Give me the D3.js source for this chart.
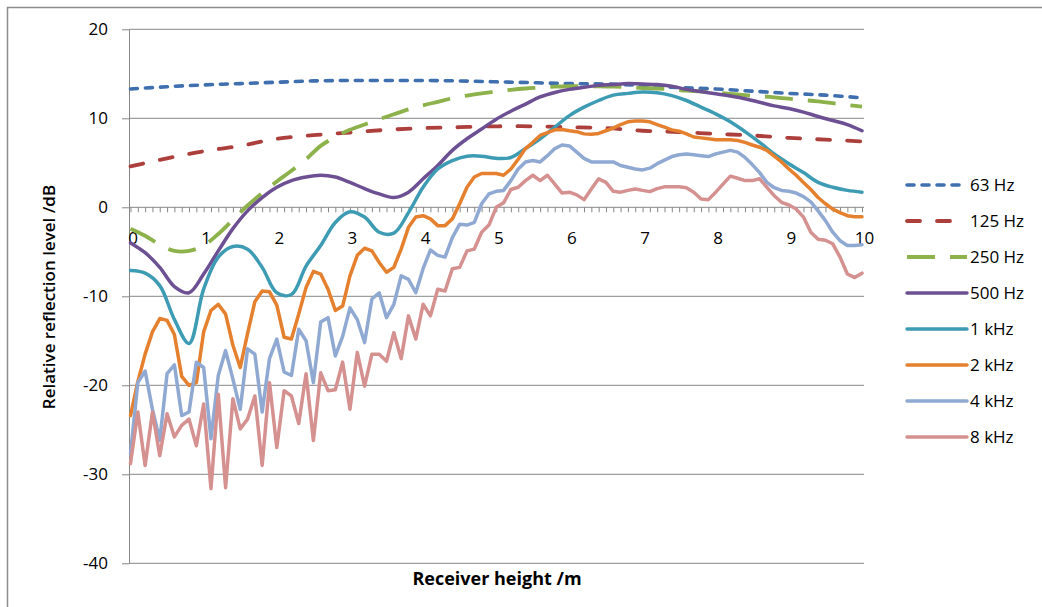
<!DOCTYPE html>
<html>
<head>
<meta charset="utf-8">
<script src="https://cdn.jsdelivr.net/npm/d3@7"></script>
<style>
  body { margin: 0; background: #fff; }
  svg { display: block; }
  text { font-family: "Open Sans", sans-serif; fill: #000; }
</style>
</head>
<body>
<div id="chart"></div>
<script>
// categories: receiver height (m)
const heightsFine = d3.range(0, 101).map(i => i / 10);   // every 0.1 m
const heightsMid = d3.range(0, 51).map(i => i / 5);      // every 0.2 m
const heightsCoarse = d3.range(0, 21).map(i => i / 2);   // every 0.5 m

const seriesNames = ["63 Hz", "125 Hz", "250 Hz", "500 Hz", "1 kHz", "2 kHz", "4 kHz", "8 kHz"];
const yTicks = [-40, -30, -20, -10, 0, 10, 20];
const xLabels = [0, 1, 2, 3, 4, 5, 6, 7, 8, 9, 10];

// relative reflection level (dB)
const hz63 = [13.3, 13.55, 13.75, 13.9, 14.05, 14.2, 14.25, 14.25, 14.25, 14.2, 14.1,
  14.0, 13.9, 13.85, 13.7, 13.45, 13.3, 13.05, 12.8, 12.6, 12.3];

const hz125 = [4.6, 5.5, 6.3, 6.9, 7.7, 8.1, 8.4, 8.7, 8.9, 9.0, 9.1,
  9.1, 9.0, 8.9, 8.6, 8.45, 8.25, 8.07, 7.8, 7.6, 7.4];

const hz250 = [
  -2.4, -3.2, -4.2, -4.9, -4.9, -4.3, -3.0, -1.4, 0.2, 1.6,
  2.9, 4.1, 5.4, 6.9, 7.9, 8.7, 9.3, 9.9, 10.45, 11.0,
  11.45, 11.85, 12.25, 12.55, 12.8, 13.0, 13.2, 13.35, 13.45, 13.55,
  13.6, 13.6, 13.6, 13.55, 13.5, 13.4, 13.35, 13.25, 13.1, 13.0,
  12.87, 12.75, 12.6, 12.5, 12.35, 12.2, 12.05, 11.9, 11.7, 11.5,
  11.3];

const hz500 = [
  -4.0, -5.1, -6.75, -8.9, -9.6, -7.5, -4.9, -2.4, -0.4, 1.1,
  2.25, 3.0, 3.4, 3.6, 3.4, 2.8, 2.1, 1.5, 1.1, 1.7,
  3.2, 4.7, 6.4, 7.7, 8.8, 9.9, 10.8, 11.6, 12.4, 12.9,
  13.25, 13.5, 13.7, 13.8, 13.9, 13.85, 13.8, 13.6, 13.25, 13.0,
  12.76, 12.5, 12.2, 11.8, 11.4, 11.1, 10.7, 10.2, 9.75, 9.3,
  8.6];

const khz1 = [
  -7.1, -7.4, -8.8, -12.6, -15.3, -9.2, -5.6, -4.4, -4.7, -6.75,
  -9.6, -9.8, -6.6, -4.3, -1.7, -0.5, -1.1, -2.8, -2.9, -0.6,
  2.25, 4.3, 5.25, 5.74, 5.74, 5.5, 5.6, 6.6, 7.7, 9.0,
  10.3, 11.25, 12.0, 12.6, 12.8, 12.95, 12.87, 12.55, 12.0, 11.25,
  10.5, 9.6, 8.5, 7.3, 6.0, 4.9, 3.9, 2.8, 2.25, 1.9,
  1.7];

const khz2 = [
  -23.4, -19.6, -16.5, -14.0, -12.5, -12.7, -14.3, -19.0, -20.0, -19.7,
  -14.0, -11.6, -10.9, -12.0, -15.5, -18.0, -14.2, -10.6, -9.4, -9.5,
  -11.0, -14.6, -14.8, -12.0, -9.0, -7.2, -7.5, -9.2, -11.6, -11.1,
  -7.7, -5.4, -4.6, -4.9, -6.2, -7.3, -6.75, -4.7, -2.25, -1.1,
  -0.94, -1.3, -2.06, -2.06, -1.3, 0.4, 2.25, 3.4, 3.8, 3.8,
  3.8, 3.6, 4.3, 5.4, 6.6, 7.3, 8.07, 8.4, 8.7, 8.75,
  8.6, 8.5, 8.25, 8.2, 8.3, 8.6, 8.9, 9.3, 9.6, 9.7,
  9.7, 9.6, 9.3, 9.0, 8.7, 8.55, 8.25, 7.9, 7.8, 7.7,
  7.6, 7.6, 7.6, 7.5, 7.3, 7.0, 6.75, 6.4, 5.74, 5.1,
  4.3, 3.6, 2.8, 2.0, 1.1, 0.4, -0.2, -0.6, -0.94, -1.05,
  -1.05];

const khz4 = [
  -27.7, -19.7, -18.4, -22.7, -26.2, -18.7, -17.7, -23.4, -23.0, -17.4,
  -18.0, -26.0, -18.9, -16.1, -19.3, -22.7, -15.9, -16.5, -23.0, -17.0,
  -14.8, -18.5, -18.9, -13.7, -15.0, -19.7, -12.9, -12.4, -16.7, -14.5,
  -11.3, -12.6, -15.2, -10.3, -9.6, -12.4, -10.9, -7.7, -8.1, -9.6,
  -6.9, -4.8, -5.4, -5.6, -3.4, -1.9, -2.0, -1.7, 0.4, 1.5,
  1.8, 1.9, 3.0, 4.3, 5.1, 5.25, 5.1, 5.8, 6.6, 7.0,
  6.9, 6.2, 5.5, 5.1, 5.1, 5.1, 5.1, 4.7, 4.5, 4.3,
  4.2, 4.4, 4.9, 5.3, 5.7, 5.9, 6.0, 5.9, 5.8, 5.7,
  6.0, 6.2, 6.4, 6.2, 5.6, 4.8, 3.9, 2.8, 2.2, 1.9,
  1.8, 1.6, 1.2, 0.6, -0.4, -1.5, -2.8, -3.75, -4.3, -4.3,
  -4.2];

const khz8 = [
  -28.8, -23.0, -29.0, -23.0, -27.9, -23.2, -25.8, -24.5, -23.8, -26.8,
  -22.1, -31.6, -21.0, -31.5, -21.5, -24.9, -23.8, -21.2, -29.0, -19.7,
  -27.0, -20.6, -21.2, -24.3, -18.7, -26.2, -18.6, -20.6, -20.5, -17.4,
  -22.7, -16.3, -20.1, -16.5, -16.5, -17.3, -14.1, -17.0, -12.2, -14.8,
  -10.9, -12.2, -9.2, -9.4, -6.9, -6.75, -4.9, -4.7, -2.8, -2.0,
  0.0, 0.5, 2.0, 2.25, 3.0, 3.6, 3.0, 3.6, 2.6, 1.6,
  1.7, 1.4, 0.86, 2.06, 3.2, 2.8, 1.8, 1.7, 1.9, 2.06,
  1.9, 1.76, 2.1, 2.3, 2.3, 2.3, 2.2, 1.7, 0.94, 0.86,
  1.7, 2.6, 3.5, 3.26, 3.0, 3.0, 3.2, 2.25, 1.3, 0.56,
  0.26, -0.2, -1.1, -2.8, -3.6, -3.7, -4.1, -5.6, -7.5, -7.9,
  -7.4];

const seriesValues = [hz63, hz125, hz250, hz500, khz1, khz2, khz4, khz8];
const seriesHeights = [heightsCoarse, heightsCoarse, heightsMid, heightsMid, heightsMid,
  heightsFine, heightsFine, heightsFine];

// styles
const colors = ["#3f6fae", "#ac3f3c", "#8db14b", "#6d5093", "#3d9bb3", "#e5802f", "#8fa9d2", "#d59090"];
const dashes = ["7,8", "13,17", "28,15", null, null, null, null, null];
const caps = ["round", "round", "butt", "round", "round", "round", "round", "round"];
const widths = [3.6, 3.8, 3.8, 3.5, 3.5, 3.5, 3.5, 3.5];

function renderChart() {
  const W = 1042, H = 607;
  const plot = { left: 129, right: 864, top: 29.3, bottom: 563.3 };
  const gridColor = "#878787";

  const svg = d3.select("#chart").append("svg")
    .attr("width", W)
    .attr("height", H);

  svg.append("rect")
    .attr("width", W)
    .attr("height", H)
    .attr("fill", "#fff");

  // chart frame
  svg.append("rect")
    .attr("x", 7.5).attr("y", 7.5)
    .attr("width", 1100).attr("height", 700)
    .attr("fill", "none")
    .attr("stroke", "#8c8c8c")
    .attr("stroke-width", 1.5);

  const x = d3.scaleLinear().domain([0, 10]).range([130.5, 862]);
  const y = d3.scaleLinear().domain([-40, 20]).range([plot.bottom, plot.top]);

  // horizontal gridlines
  svg.append("g").selectAll("line")
    .data(yTicks.filter(d => d !== 0))
    .enter().append("line")
      .attr("x1", plot.left).attr("x2", plot.right)
      .attr("y1", d => y(d)).attr("y2", d => y(d))
      .attr("stroke", gridColor)
      .attr("stroke-width", 1);

  // y axis
  const yAxis = svg.append("g")
    .attr("transform", `translate(${plot.left},0)`)
    .call(d3.axisLeft(y).tickValues(yTicks).tickSize(7).tickSizeOuter(0)
      .tickPadding(14).tickFormat(d => String(d)));
  yAxis.select(".domain").attr("stroke", gridColor);
  yAxis.selectAll(".tick line").attr("stroke", gridColor);
  yAxis.selectAll("text").style("font-size", "17px").attr("fill", "#000");

  // x axis at 0 dB: category tick marks every 0.1 m
  svg.append("line")
    .attr("x1", plot.left).attr("x2", plot.right)
    .attr("y1", y(0)).attr("y2", y(0))
    .attr("stroke", gridColor);
  const xTicks = svg.append("g")
    .attr("transform", `translate(0,${y(0)})`)
    .call(d3.axisBottom(x).tickValues(heightsFine).tickSize(5).tickSizeOuter(0).tickFormat(""));
  xTicks.select(".domain").remove();
  xTicks.selectAll(".tick line").attr("stroke", gridColor);

  const xLab = svg.append("g")
    .attr("transform", `translate(2,${y(0)})`)
    .call(d3.axisBottom(x).tickValues(xLabels).tickSize(0).tickPadding(25).tickFormat(d => String(d)));
  xLab.select(".domain").remove();
  xLab.selectAll("text").style("font-size", "17px").attr("fill", "#000");

  // series
  const g = svg.append("g");
  seriesValues.forEach((vals, i) => {
    const hs = seriesHeights[i];
    const pts = vals.map((v, j) => [hs[j], v]);
    const curve = hs === heightsFine ? d3.curveLinear : d3.curveCatmullRom.alpha(0.5);
    const line = d3.line()
      .x(d => x(d[0]))
      .y(d => y(d[1]))
      .curve(curve);
    g.append("path")
      .datum(pts)
      .attr("d", line)
      .attr("fill", "none")
      .attr("stroke", colors[i])
      .attr("stroke-width", widths[i])
      .attr("stroke-linejoin", "round")
      .attr("stroke-linecap", caps[i])
      .attr("stroke-dasharray", dashes[i]);
  });

  // axis titles
  svg.append("text")
    .attr("transform", "translate(55,297) rotate(-90)")
    .attr("text-anchor", "middle")
    .style("font-size", "17px")
    .style("font-weight", "600")
    .text("Relative reflection level /dB");

  svg.append("text")
    .attr("x", 497).attr("y", 585)
    .attr("text-anchor", "middle")
    .style("font-size", "18px")
    .style("font-weight", "bold")
    .text("Receiver height /m");

  // legend
  const legend = svg.append("g").attr("transform", "translate(907,185)");
  const item = legend.selectAll("g")
    .data(seriesNames)
    .enter().append("g")
      .attr("transform", (d, i) => `translate(0,${i * 36})`);
  item.append("line")
    .attr("x1", 0).attr("x2", 60)
    .attr("stroke", (d, i) => colors[i])
    .attr("stroke-width", (d, i) => widths[i])
    .attr("stroke-linecap", (d, i) => caps[i])
    .attr("stroke-dasharray", (d, i) => dashes[i]);
  item.append("text")
    .attr("x", 63)
    .attr("dy", "0.36em")
    .style("font-size", "17px")
    .text(d => d);
}
renderChart();
</script>
</body>
</html>
